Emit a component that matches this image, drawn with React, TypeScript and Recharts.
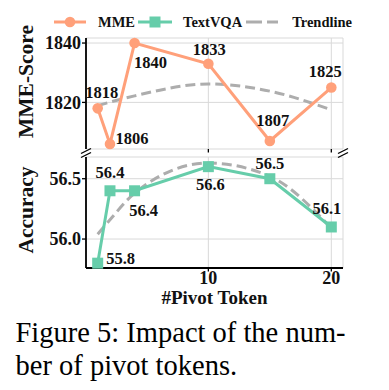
import React from 'react';
import { LineChart, Line, XAxis, YAxis, CartesianGrid, LabelList, Legend, ReferenceLine } from 'recharts';

const pivotTokens = [1, 2, 4, 10, 15, 20];
const mmeScores = [1818, 1806, 1840, 1833, 1807, 1825];
const mmeTrend = [1818.9, 1820.1, 1822.2, 1826.2, 1823.8, 1817.5];
const textVqaAccuracy = [55.8, 56.4, 56.4, 56.6, 56.5, 56.1];
const textVqaTrend = [56.04, 56.16, 56.38, 56.63, 56.52, 56.09];
const xTicks = [10, 20];
const mmeTicks = [1820, 1840];
const accuracyTicks = [56.0, 56.5];
const seriesNames = ['MME', 'TextVQA', 'Trendline'];

const xDomain = [0.05, 20.95];
const mmeDomain = [1804.3, 1841.7];
const accuracyDomain = [55.76, 56.68];

// where each value label sits relative to its point (px)
const mmeLabelOffsets = [[4, -16], [22, -5], [16, 19], [1, -14.5], [3, -20.5], [-6, -16.5]];
const vqaLabelOffsets = [[23, -5], [0, -18], [9, 20], [2, 18], [0, -15], [-4.5, -18]];

const mmeData = pivotTokens.map((x, i) => ({ x, mme: mmeScores[i], trend: mmeTrend[i] }));
const vqaData = pivotTokens.map((x, i) => ({ x, vqa: textVqaAccuracy[i], trend: textVqaTrend[i] }));

const SERIF = '"Liberation Serif", "Times New Roman", serif';
const ORANGE = '#FFA07A';
const TEAL = '#66CDAA';
const GRAY = '#ADADAD';
const INK = '#111';

const tickStyle = { fill: INK, fontSize: 18, fontFamily: SERIF, fontWeight: 700 };

const makeLabel = (offsets: number[][]) => (props: any) => {
  const { x, y, value, index } = props;
  const [dx, dy] = offsets[index];
  return (
    <text
      x={x + dx}
      y={y + dy}
      textAnchor="middle"
      dominantBaseline="central"
      fill={INK}
      fontSize={16.5}
      fontFamily={SERIF}
      fontWeight={700}
    >
      {value}
    </text>
  );
};

const SquareDot = (props: any) => {
  const { cx, cy, index } = props;
  return <rect key={`sq-${index}`} x={cx - 5.5} y={cy - 5.5} width={11} height={11} fill={TEAL} />;
};

const breakMarks = (shift: number) => (props: any) => {
  const { x, y, width } = props.viewBox;
  return (
    <g stroke="#000" strokeWidth={1.3}>
      {[x, x + width].map((px) => (
        <line key={px} x1={px - 5} y1={y + shift + 2.5} x2={px + 5} y2={y + shift - 2.5} />
      ))}
    </g>
  );
};

const yTitle = (text: string, shift: number) => (props: any) => {
  const { y, height } = props.viewBox;
  return (
    <text
      transform={`translate(26, ${y + height / 2 + shift}) rotate(-90)`}
      textAnchor="middle"
      dominantBaseline="central"
      fill={INK}
      fontSize={21.5}
      fontFamily={SERIF}
      fontWeight={700}
    >
      {text}
    </text>
  );
};

const LegendBox = () => {
  const text = { fontFamily: SERIF, fontWeight: 700, fontSize: 14.5, color: INK, whiteSpace: 'nowrap' as const };
  return (
    <div style={{ display: 'flex', alignItems: 'center', height: 20 }}>
      <svg width={32} height={14}>
        <line x1={0} x2={32} y1={7} y2={7} stroke={ORANGE} strokeWidth={3} />
        <circle cx={16} cy={7} r={5.3} fill={ORANGE} />
      </svg>
      <span style={{ ...text, marginLeft: 12 }}>{seriesNames[0]}</span>
      <svg width={34} height={14} style={{ marginLeft: 3 }}>
        <line x1={0} x2={34} y1={7} y2={7} stroke={TEAL} strokeWidth={3} />
        <rect x={11.5} y={1.5} width={11} height={11} fill={TEAL} />
      </svg>
      <span style={{ ...text, marginLeft: 11 }}>{seriesNames[1]}</span>
      <svg width={32} height={14} style={{ marginLeft: 4 }}>
        <line x1={0} x2={32} y1={7} y2={7} stroke={GRAY} strokeWidth={3} strokeDasharray="16 5" />
      </svg>
      <span style={{ ...text, marginLeft: 14 }}>{seriesNames[2]}</span>
    </div>
  );
};

export default function App() {
  return (
    <div style={{ position: 'absolute', left: 0, top: 0, width: 389, height: 390, background: '#fff' }}>
      <div style={{ position: 'absolute', left: 0, top: 0 }}>
        <LineChart width={389} height={160} data={mmeData} margin={{ top: 38, right: 46, bottom: 5, left: 0 }}>
          <CartesianGrid stroke="#d9d9d9" strokeWidth={1} />
          <XAxis
            dataKey="x"
            type="number"
            domain={xDomain}
            ticks={xTicks}
            height={6}
            axisLine={false}
            tickLine={{ stroke: '#000', strokeWidth: 1.3 }}
            tickSize={3.5}
            tickFormatter={() => ''}
          />
          <XAxis xAxisId="top" orientation="top" type="number" domain={xDomain} height={0} tick={false} tickLine={false} axisLine={{ stroke: '#000', strokeWidth: 1.8 }} />
          <YAxis
            type="number"
            domain={mmeDomain}
            ticks={mmeTicks}
            width={86}
            tick={tickStyle}
            tickSize={4}
            tickMargin={1}
            tickLine={{ stroke: '#000', strokeWidth: 1.3 }}
            axisLine={{ stroke: '#000', strokeWidth: 1.8 }}
            label={{ content: yTitle('MME-Score', -12) }}
          />
          <YAxis yAxisId="right" orientation="right" type="number" domain={mmeDomain} width={0} tick={false} tickLine={false} axisLine={{ stroke: '#000', strokeWidth: 1.8 }} />
          <ReferenceLine y={mmeDomain[0]} stroke="none" label={breakMarks(2)} />
          <Legend
            verticalAlign="middle"
            align="center"
            layout="horizontal"
            wrapperStyle={{ top: 12, left: 54, width: 330, height: 20 }}
            content={() => <LegendBox />}
          />
          <Line dataKey="trend" stroke={GRAY} strokeWidth={3} strokeDasharray="10 5" dot={false} type="monotone" isAnimationActive={false} />
          <Line dataKey="mme" stroke={ORANGE} strokeWidth={3} dot={{ r: 5.3, fill: ORANGE, stroke: ORANGE, strokeWidth: 0 }} type="linear" isAnimationActive={false}>
            <LabelList dataKey="mme" content={makeLabel(mmeLabelOffsets)} />
          </Line>
        </LineChart>
      </div>
      <div style={{ position: 'absolute', left: 0, top: 0 }}>
        <LineChart width={389} height={320} data={vqaData} margin={{ top: 157, right: 46, bottom: 12, left: 0 }}>
          <CartesianGrid stroke="#d9d9d9" strokeWidth={1} />
          <XAxis
            dataKey="x"
            type="number"
            domain={xDomain}
            ticks={xTicks}
            height={40}
            tick={tickStyle}
            tickSize={3.5}
            tickMargin={0}
            tickLine={{ stroke: '#000', strokeWidth: 1.3 }}
            axisLine={{ stroke: '#000', strokeWidth: 1.8 }}
            label={{
              content: (props: any) => {
                const { x, y, width } = props.viewBox;
                return (
                  <text x={x + width / 2} y={y + 36} textAnchor="middle" fill={INK} fontSize={19} fontFamily={SERIF} fontWeight={700}>
                    #Pivot Token
                  </text>
                );
              },
            }}
          />
          <YAxis
            type="number"
            domain={accuracyDomain}
            ticks={accuracyTicks}
            width={86}
            tick={tickStyle}
            tickSize={4}
            tickMargin={1}
            tickFormatter={(v: number) => v.toFixed(1)}
            tickLine={{ stroke: '#000', strokeWidth: 1.3 }}
            axisLine={{ stroke: '#000', strokeWidth: 1.8 }}
            label={{ content: yTitle('Accuracy', -2.5) }}
          />
          <YAxis yAxisId="right" orientation="right" type="number" domain={accuracyDomain} width={0} tick={false} tickLine={false} axisLine={{ stroke: '#000', strokeWidth: 1.8 }} />
          <ReferenceLine y={accuracyDomain[1]} stroke="none" label={breakMarks(-2)} />
          <Line dataKey="trend" stroke={GRAY} strokeWidth={3} strokeDasharray="10 5" dot={false} type="monotone" isAnimationActive={false} />
          <Line dataKey="vqa" stroke={TEAL} strokeWidth={3} dot={SquareDot} type="linear" isAnimationActive={false}>
            <LabelList dataKey="vqa" content={makeLabel(vqaLabelOffsets)} />
          </Line>
        </LineChart>
      </div>
      <div
        style={{
          position: 'absolute',
          left: 15.5,
          top: 316,
          fontFamily: SERIF,
          fontSize: 28.5,
          lineHeight: '33px',
          color: '#000',
          whiteSpace: 'nowrap',
        }}
      >
        <div>Figure 5: Impact of the num-</div>
        <div>ber of pivot tokens.</div>
      </div>
    </div>
  );
}
